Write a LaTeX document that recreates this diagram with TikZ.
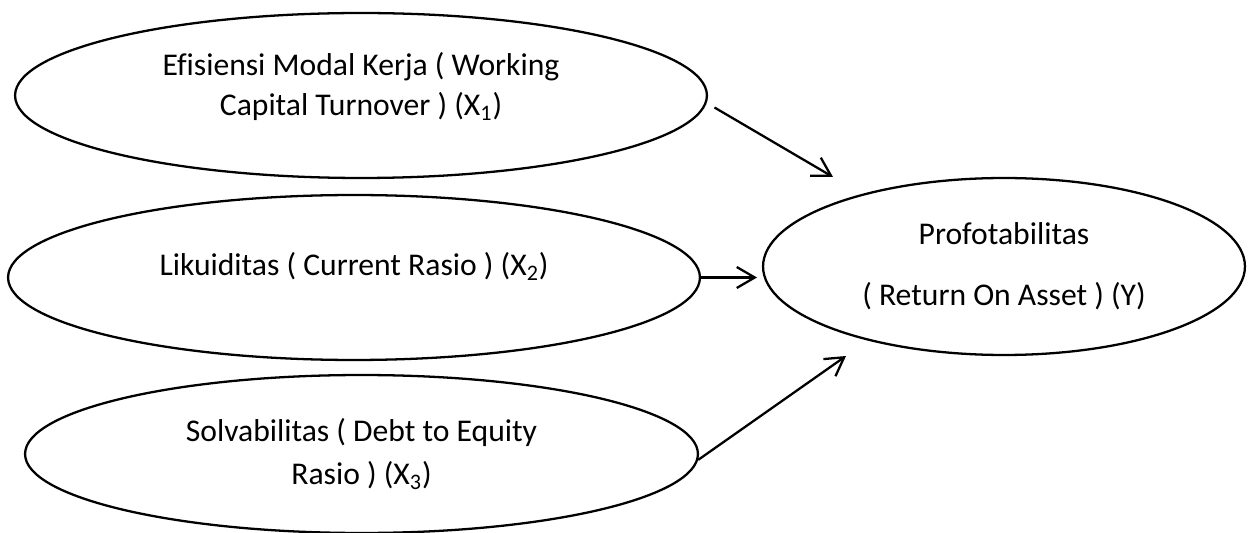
\documentclass[tikz,border=0pt]{standalone}
\usepackage{fontspec}
\setmainfont{Carlito}[Ligatures=NoCommon]
\usetikzlibrary{
  arrows.meta,
  shapes.geometric,
  positioning
}
\tikzset{
  varellipse/.style={
    ellipse,
    draw,
    line width=1.3pt,
    inner sep=0pt,
    align=center,
    font=\fontsize{18}{22.7}\selectfont
  }
}

\begin{document}
\begin{tikzpicture}[
      x=0.02cm, y=-0.02cm,
      >={Straight Barb[length=3.6mm,width=4.2mm]},
      link/.style={->, line width=1.3pt}
      ]
      \useasboundingbox (0,0) rectangle (1253,533);

      \node[varellipse, minimum width=13.84cm, minimum height=3.3cm,
            text depth=13pt] (x1) at (361,95.5)
        {Efisiensi Modal Kerja ( Working\\Capital Turnover ) (X\textsubscript{1})};
      \node[varellipse, minimum width=13.84cm, minimum height=3.3cm,
            text depth=15pt] (x2) at (354,277.5)
        {Likuiditas ( Current Rasio ) (X\textsubscript{2})};
      \node[varellipse, minimum width=13.46cm, minimum height=3.16cm] (x3) at (361.5,454)
        {Solvabilitas ( Debt to Equity\\[1.5pt]Rasio ) (X\textsubscript{3})};
      \node[varellipse, minimum width=9.64cm, minimum height=3.54cm] (y) at (1004,266.5)
        {Profotabilitas\\[12pt]( Return On Asset ) (Y)};

      % arrow tips stop short of y
      \coordinate (t1) at (833,177);
      \coordinate (t2) at (757,277.5);
      \coordinate (t3) at (846,356);

      \draw[link] ([xshift=0.2cm]x1.-2.5) -- (t1);
      \foreach \s/\t in {x2.east/t2, x3.-1/t3}{
        \draw[link] (\s) -- (\t);
      }
    \end{tikzpicture}
\end{document}
